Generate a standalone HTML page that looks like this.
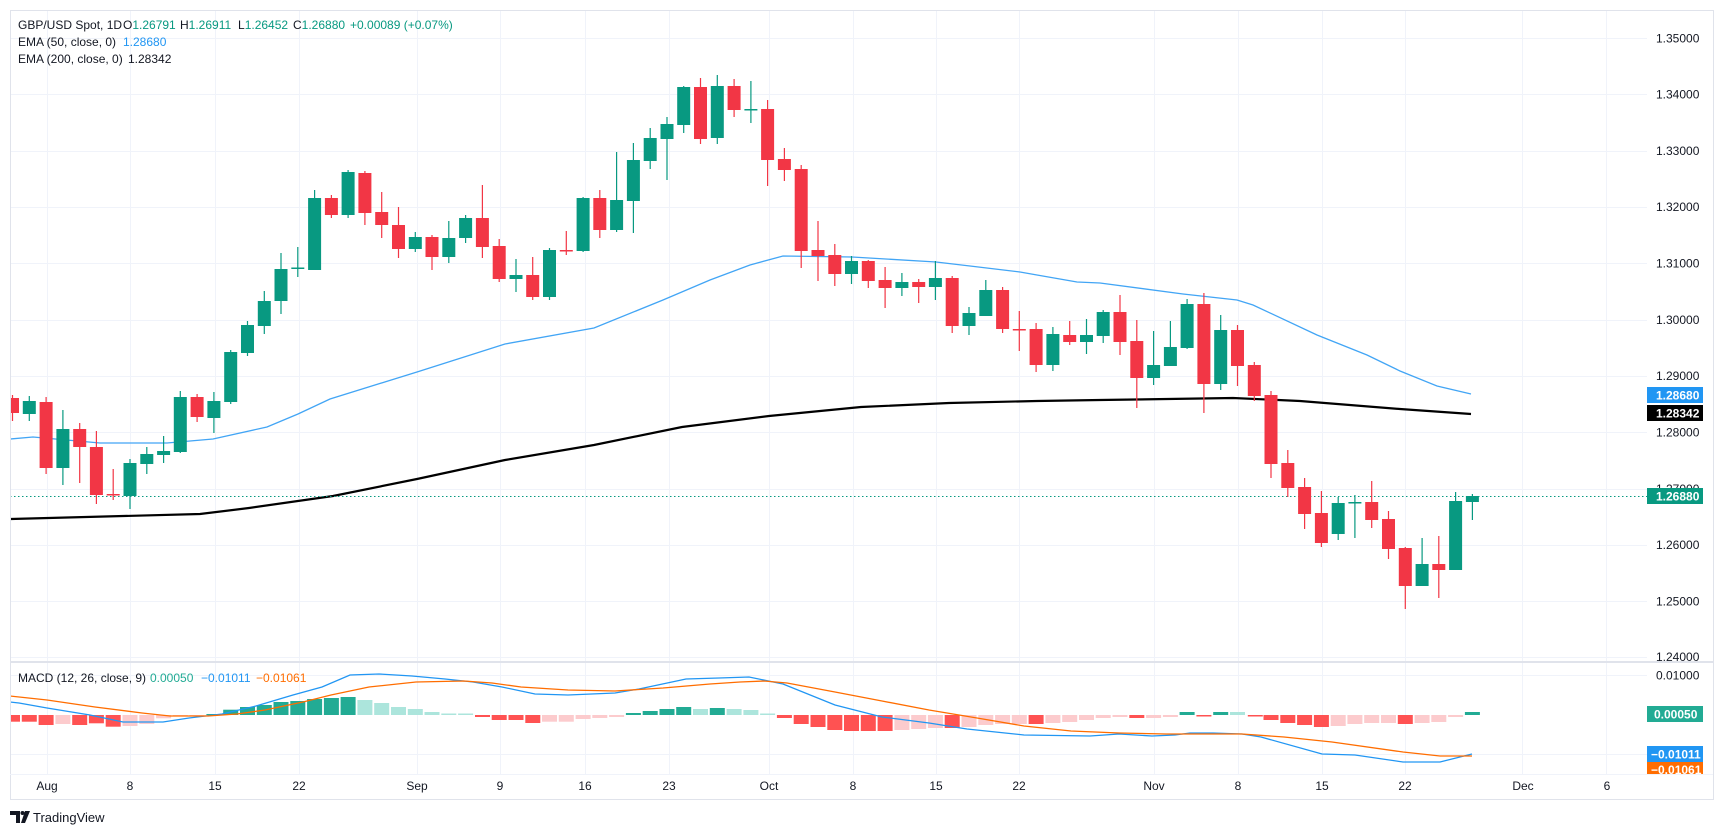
<!DOCTYPE html>
<html><head><meta charset="utf-8"><style>
html,body{margin:0;padding:0;background:#fff;}
svg{display:block;font-family:"Liberation Sans",sans-serif;}
</style></head><body>
<svg width="1723" height="835" viewBox="0 0 1723 835" xmlns="http://www.w3.org/2000/svg">
<rect width="1723" height="835" fill="#fff"/>
<!-- grid -->
<g stroke="#f0f3fa" stroke-width="1">
<path d="M10 38.5H1647M10 94.5H1647M10 151.5H1647M10 207.5H1647M10 263.5H1647M10 320.5H1647M10 376.5H1647M10 432.5H1647M10 489.5H1647M10 545.5H1647M10 601.5H1647M10 657.5H1647"/>
<path d="M10 675.5H1647M10 754.5H1647"/>
<path d="M47.5 10V774M130.5 10V774M215.5 10V774M299.5 10V774M417.5 10V774M500.5 10V774M585.5 10V774M669.5 10V774M769.5 10V774M853.5 10V774M936.5 10V774M1019.5 10V774M1154.5 10V774M1238.5 10V774M1322.5 10V774M1405.5 10V774M1522.5 10V774M1606.5 10V774"/>
</g>
<!-- frame -->
<rect x="10.5" y="10.5" width="1703" height="789" fill="none" stroke="#e0e3eb"/>
<path d="M10 662H1713" stroke="#e0e3eb" stroke-width="2"/>
<path d="M10 774.5H1713" stroke="#f0f3fa"/>
<clipPath id="c"><rect x="11" y="11" width="1636" height="650"/></clipPath>
<clipPath id="m"><rect x="11" y="663" width="1636" height="111"/></clipPath>
<g clip-path="url(#c)">
<!-- EMA200 -->
<polyline fill="none" stroke="#000" stroke-width="2.2" points="10,519 200,514 249,508 333,496 417,479 505,460 594,445 682,427 769,416 861,407 949,403 1037,401 1100,400 1233,398 1300,401 1400,409 1471,414"/>
<!-- EMA50 -->
<polyline fill="none" stroke="#42a5f5" stroke-width="1.3" points="10,439 33,437 100,443 167,443 213,439 267,427 298,414 330,399 417,372 505,344 594,328 663,300 710,280 750,265 783,256 852,257 936,262 970,266 1020,272 1037,275 1077,282 1100,283 1183,294 1237,300 1253,305 1317,335 1367,355 1400,371 1437,386 1471,394"/>
<path d="M10 496.5H1647" stroke="#089981" stroke-width="1" stroke-dasharray="1.5,2.5"/>
<!-- wicks -->
<path stroke="#f23645" stroke-width="1.2" d="M12.5 395V421M46.1 397V474M79.7 423V483M96.4 431V504M113.2 469V500M197.1 394V422M331.4 195V218M364.9 171V225M381.7 192V238M398.5 207V258M432 235V270M482.4 185V258M499.2 239V282M532.7 257V300M566.3 231V255M599.8 190V238M700.5 78V144M734.1 79V117M767.6 100V186M784.4 148V181M801.2 165V268M818 221V281M834.8 244V286M868.3 260V288M885.1 267V308M918.7 279V303M952.2 276V333M1002.6 287V333M1019.3 311V351M1036.1 323V372M1069.7 321V345M1120 295V355M1136.8 320V408M1203.9 293V413M1237.5 325V386M1254.3 362V401M1271 391V478M1287.8 450V497M1304.6 478V529M1321.4 491V547M1371.7 481V528M1388.5 511V559M1405.3 547V609M1438.8 536V598"/>
<path stroke="#089981" stroke-width="1.2" d="M29.3 396V421M62.9 410V485M130 459V509M146.8 447V474M163.6 436V463M180.3 391V453M213.9 392V433M230.7 350V404M247.5 321V356M264.3 291V334M281 253V314M297.8 247V277M314.6 190V270M348.1 170V218M415.3 232V252M448.8 221V263M465.6 215V243M516 259V292M549.5 248V300M583.1 197V252M616.6 152V232M633.4 143V233M650.2 128V169M667 117V180M683.7 86V133M717.3 75V144M750.9 81V123M851.5 256V284M901.9 273V296M935.4 261V300M969 307V335M985.8 280V316M1052.9 327V371M1086.5 319V354M1103.2 310V343M1153.6 331V385M1170.4 321V366M1187.1 299V349M1220.7 315V390M1338.2 497V540M1354.9 495V538M1422.1 538V586M1455.6 492V570M1472.4 494V520"/>
<!-- bodies red -->
<g fill="#f23645">
<rect x="6" y="398" width="13" height="15"/><rect x="39.6" y="402" width="13" height="66"/><rect x="73.2" y="429" width="13" height="18"/><rect x="89.9" y="447" width="13" height="48"/><rect x="106.7" y="494" width="13" height="1.5"/><rect x="190.6" y="397" width="13" height="20"/><rect x="324.9" y="198" width="13" height="17"/><rect x="358.4" y="173" width="13" height="40"/><rect x="375.2" y="212" width="13" height="13"/><rect x="392" y="225" width="13" height="24"/><rect x="425.5" y="237" width="13" height="20"/><rect x="475.9" y="218" width="13" height="29"/><rect x="492.7" y="246" width="13" height="33"/><rect x="526.2" y="275" width="13" height="22"/><rect x="559.8" y="250" width="13" height="1.5"/><rect x="593.3" y="198" width="13" height="32"/><rect x="694" y="87" width="13" height="52"/><rect x="727.6" y="86" width="13" height="24"/><rect x="761.1" y="109" width="13" height="51"/><rect x="777.9" y="159" width="13" height="11"/><rect x="794.7" y="169" width="13" height="82"/><rect x="811.5" y="250" width="13" height="6"/><rect x="828.3" y="255" width="13" height="19"/><rect x="861.8" y="261" width="13" height="20"/><rect x="878.6" y="280" width="13" height="8"/><rect x="912.2" y="282" width="13" height="5"/><rect x="945.7" y="278" width="13" height="48"/><rect x="996.1" y="290" width="13" height="39"/><rect x="1012.8" y="329" width="13" height="1.5"/><rect x="1029.6" y="329" width="13" height="36"/><rect x="1063.2" y="335" width="13" height="7"/><rect x="1113.5" y="312" width="13" height="30"/><rect x="1130.3" y="341" width="13" height="37"/><rect x="1197.4" y="304" width="13" height="80"/><rect x="1231" y="330" width="13" height="36"/><rect x="1247.8" y="365" width="13" height="31"/><rect x="1264.5" y="395" width="13" height="69"/><rect x="1281.3" y="463" width="13" height="25"/><rect x="1298.1" y="487" width="13" height="27"/><rect x="1314.9" y="513" width="13" height="30"/><rect x="1365.2" y="502" width="13" height="18"/><rect x="1382" y="519" width="13" height="30"/><rect x="1398.8" y="548" width="13" height="38"/><rect x="1432.3" y="564" width="13" height="6"/>
</g>
<g fill="#089981">
<rect x="22.8" y="401" width="13" height="13"/><rect x="56.4" y="429" width="13" height="39"/><rect x="123.5" y="463" width="13" height="33"/><rect x="140.3" y="454" width="13" height="10"/><rect x="157.1" y="451" width="13" height="4"/><rect x="173.8" y="397" width="13" height="55"/><rect x="207.4" y="401" width="13" height="17"/><rect x="224.2" y="352" width="13" height="50"/><rect x="241" y="325" width="13" height="28"/><rect x="257.8" y="301" width="13" height="25"/><rect x="274.5" y="269" width="13" height="32"/><rect x="291.3" y="267.5" width="13" height="1.5"/><rect x="308.1" y="198" width="13" height="72"/><rect x="341.6" y="172" width="13" height="43"/><rect x="408.8" y="237" width="13" height="12"/><rect x="442.3" y="238" width="13" height="19"/><rect x="459.1" y="218" width="13" height="20"/><rect x="509.5" y="275" width="13" height="4"/><rect x="543" y="250" width="13" height="47"/><rect x="576.6" y="198" width="13" height="53"/><rect x="610.1" y="200" width="13" height="30"/><rect x="626.9" y="160" width="13" height="41"/><rect x="643.7" y="138" width="13" height="23"/><rect x="660.5" y="124" width="13" height="15"/><rect x="677.2" y="87" width="13" height="38"/><rect x="710.8" y="86" width="13" height="52"/><rect x="744.4" y="109" width="13" height="1.5"/><rect x="845" y="261" width="13" height="13"/><rect x="895.4" y="282" width="13" height="6"/><rect x="928.9" y="278" width="13" height="9"/><rect x="962.5" y="313" width="13" height="13"/><rect x="979.3" y="290" width="13" height="26"/><rect x="1046.4" y="334" width="13" height="31"/><rect x="1080" y="335" width="13" height="7"/><rect x="1096.7" y="312" width="13" height="24"/><rect x="1147.1" y="365" width="13" height="13"/><rect x="1163.9" y="347" width="13" height="19"/><rect x="1180.6" y="304" width="13" height="44"/><rect x="1214.2" y="330" width="13" height="54"/><rect x="1331.7" y="503" width="13" height="31"/><rect x="1348.4" y="502" width="13" height="1.5"/><rect x="1415.6" y="564" width="13" height="22"/><rect x="1449.1" y="501" width="13" height="69"/><rect x="1465.9" y="496" width="13" height="6"/>
</g>
</g>
<!-- MACD pane -->
<g clip-path="url(#m)">
<g fill="#ff5252">
<rect x="5" y="715" width="15" height="6.7"/><rect x="21.8" y="715" width="15" height="6.7"/><rect x="38.6" y="715" width="15" height="10"/><rect x="72.2" y="715" width="15" height="10"/><rect x="88.9" y="715" width="15" height="8.3"/><rect x="105.7" y="715" width="15" height="11.7"/><rect x="475" y="715" width="15" height="2"/><rect x="491.7" y="715" width="15" height="5"/><rect x="508.5" y="715" width="15" height="5"/><rect x="525.3" y="715" width="15" height="8"/><rect x="776.9" y="715" width="15" height="3"/><rect x="793.7" y="715" width="15" height="9"/><rect x="810.5" y="715" width="15" height="12"/><rect x="827.3" y="715" width="15" height="15"/><rect x="844" y="715" width="15" height="16"/><rect x="860.8" y="715" width="15" height="16"/><rect x="877.6" y="715" width="15" height="16"/><rect x="944.7" y="715" width="15" height="13"/><rect x="1028.6" y="715" width="15" height="9"/><rect x="1129.3" y="715" width="15" height="3"/><rect x="1196.4" y="715" width="15" height="1.5"/><rect x="1247.8" y="715" width="15" height="1.5"/><rect x="1263.5" y="715" width="15" height="5"/><rect x="1280.3" y="715" width="15" height="8"/><rect x="1297.1" y="715" width="15" height="10"/><rect x="1313.9" y="715" width="15" height="12"/><rect x="1397.8" y="715" width="15" height="9"/>
</g>
<g fill="#fccbcd">
<rect x="55.4" y="715" width="15" height="9"/><rect x="122.5" y="715" width="15" height="11"/><rect x="139.3" y="715" width="15" height="9"/><rect x="156.1" y="715" width="15" height="3.3"/><rect x="172.8" y="715" width="15" height="1.3"/><rect x="189.6" y="715" width="15" height="1"/><rect x="542" y="715" width="15" height="6.7"/><rect x="558.8" y="715" width="15" height="6.7"/><rect x="575.6" y="715" width="15" height="4"/><rect x="592.3" y="715" width="15" height="3"/><rect x="609.1" y="715" width="15" height="2"/><rect x="894.4" y="715" width="15" height="15"/><rect x="911.2" y="715" width="15" height="14"/><rect x="927.9" y="715" width="15" height="13"/><rect x="961.5" y="715" width="15" height="12"/><rect x="978.3" y="715" width="15" height="10"/><rect x="995.1" y="715" width="15" height="9"/><rect x="1011.8" y="715" width="15" height="9"/><rect x="1045.4" y="715" width="15" height="8"/><rect x="1062.2" y="715" width="15" height="7"/><rect x="1079" y="715" width="15" height="5"/><rect x="1095.7" y="715" width="15" height="3"/><rect x="1112.5" y="715" width="15" height="2"/><rect x="1146.1" y="715" width="15" height="3"/><rect x="1162.9" y="715" width="15" height="2"/><rect x="1330.7" y="715" width="15" height="11"/><rect x="1347.4" y="715" width="15" height="9"/><rect x="1364.2" y="715" width="15" height="8"/><rect x="1381" y="715" width="15" height="8"/><rect x="1414.6" y="715" width="15" height="8"/><rect x="1431.3" y="715" width="15" height="7"/><rect x="1448.1" y="715" width="15" height="2"/>
</g>
<g fill="#22ab94">
<rect x="206.4" y="714" width="15" height="1"/><rect x="223.2" y="709.7" width="15" height="5.3"/><rect x="240" y="707" width="15" height="8"/><rect x="256.8" y="705" width="15" height="10"/><rect x="273.5" y="702" width="15" height="13"/><rect x="290.3" y="701" width="15" height="14"/><rect x="307.1" y="699" width="15" height="16"/><rect x="323.9" y="698" width="15" height="17"/><rect x="340.6" y="697" width="15" height="18"/><rect x="625.9" y="713" width="15" height="2"/><rect x="642.7" y="711" width="15" height="4"/><rect x="659.5" y="709" width="15" height="6"/><rect x="676.2" y="707" width="15" height="8"/><rect x="709.8" y="708" width="15" height="7"/><rect x="1179.6" y="712" width="15" height="3"/><rect x="1213.2" y="712" width="15" height="3"/><rect x="1464.9" y="712" width="15" height="3"/>
</g>
<g fill="#ace5dc">
<rect x="357.4" y="700" width="15" height="15"/><rect x="374.2" y="703" width="15" height="12"/><rect x="391" y="707" width="15" height="8"/><rect x="407.8" y="709" width="15" height="6"/><rect x="424.5" y="712" width="15" height="3"/><rect x="441.3" y="713.5" width="15" height="1.5"/><rect x="458.1" y="713.5" width="15" height="1.5"/><rect x="693" y="709" width="15" height="6"/><rect x="726.6" y="709" width="15" height="6"/><rect x="743.4" y="710" width="15" height="5"/><rect x="760.1" y="713.5" width="15" height="1.5"/><rect x="1230" y="712" width="15" height="3"/>
</g>
<polyline fill="none" stroke="#2196f3" stroke-width="1.3" points="10,702 19,703 47,708 90,715 123,722 163,722 189,718 222,714 256,706 293,695 322,687 350,675 379,674 412,676 445,679 473,682 502,687 535,694 568,695 615,693 639,689 686,679 719,678 749,677 783,684 835,705 882,717 929,723 967,729 1024,735 1090,736 1119,734 1152,736 1175,735 1190,733 1213,733 1242,734 1261,737 1322,754 1355,755 1403,762 1440,762 1472,754"/>
<polyline fill="none" stroke="#ff6d00" stroke-width="1.3" points="10,696 47,700 95,707 142,713 170,716 208,716 237,714 265,710 303,702 331,695 369,687 416,682 464,681 492,683 521,687 568,690 615,691 663,688 710,684 740,682 764,681 787,683 835,692 882,701 929,710 977,718 1024,726 1071,731 1119,733 1166,734 1213,734 1242,734 1284,737 1332,742 1403,752 1440,756 1472,756"/>
</g>
<!-- price axis labels -->
<g font-size="12" fill="#131722">
<text x="1656" y="42.5">1.35000</text><text x="1656" y="98.5">1.34000</text><text x="1656" y="155">1.33000</text><text x="1656" y="211">1.32000</text><text x="1656" y="267.5">1.31000</text><text x="1656" y="324">1.30000</text><text x="1656" y="380">1.29000</text><text x="1656" y="436.5">1.28000</text><text x="1656" y="493">1.27000</text><text x="1656" y="549">1.26000</text><text x="1656" y="605.5">1.25000</text><text x="1656" y="661">1.24000</text>
<text x="1656" y="679.5">0.01000</text>
</g>
<g font-size="12" font-weight="bold" fill="#fff">
<rect x="1647" y="387" width="56" height="16" fill="#2196f3"/><text x="1656" y="399.5">1.28680</text>
<rect x="1647" y="405" width="56" height="16" fill="#000"/><text x="1656" y="417.5">1.28342</text>
<rect x="1647" y="488" width="56" height="16" fill="#089981"/><text x="1656" y="500.5">1.26880</text>
<rect x="1647" y="706" width="56" height="16" fill="#22ab94"/><text x="1654" y="718.5">0.00050</text>
<rect x="1647" y="762" width="56" height="12" fill="#ff6d00"/><text x="1651" y="774" >−0.01061</text>
<rect x="1647" y="746" width="56" height="16" fill="#2196f3"/><text x="1651" y="758.5">−0.01011</text>
</g>
<!-- x axis -->
<g font-size="12" fill="#131722" text-anchor="middle">
<text x="47" y="790">Aug</text><text x="130" y="790">8</text><text x="215" y="790">15</text><text x="299" y="790">22</text><text x="417" y="790">Sep</text><text x="500" y="790">9</text><text x="585" y="790">16</text><text x="669" y="790">23</text><text x="769" y="790">Oct</text><text x="853" y="790">8</text><text x="936" y="790">15</text><text x="1019" y="790">22</text><text x="1154" y="790">Nov</text><text x="1238" y="790">8</text><text x="1322" y="790">15</text><text x="1405" y="790">22</text><text x="1523" y="790">Dec</text><text x="1607" y="790">6</text>
</g>
<!-- legends -->
<g font-size="12" fill="#131722">
<text x="18" y="29">GBP/USD Spot, 1D</text>
<text x="123" y="29">O<tspan fill="#089981">1.26791</tspan></text>
<text x="180" y="29">H<tspan fill="#089981">1.26911</tspan></text>
<text x="238" y="29">L<tspan fill="#089981">1.26452</tspan></text>
<text x="293" y="29">C<tspan fill="#089981">1.26880</tspan></text>
<text x="350" y="29" fill="#089981">+0.00089 (+0.07%)</text>
<text x="18" y="46">EMA (50, close, 0)</text><text x="123" y="46" fill="#2196f3">1.28680</text>
<text x="18" y="63">EMA (200, close, 0)</text><text x="128" y="63">1.28342</text>
<text x="18" y="682">MACD (12, 26, close, 9)</text>
<text x="150" y="682" fill="#22ab94">0.00050</text>
<text x="201" y="682" fill="#2196f3">−0.01011</text>
<text x="256" y="682" fill="#ff6d00">−0.01061</text>
</g>
<!-- logo -->
<g fill="#131722">
<path d="M10 811H20V823H16V815H10Z"/><circle cx="22.5" cy="813" r="2"/><path d="M25 811H30L25 823H21Z"/>
<text x="33" y="822" font-size="13">TradingView</text>
</g>
</svg>
</body></html>
